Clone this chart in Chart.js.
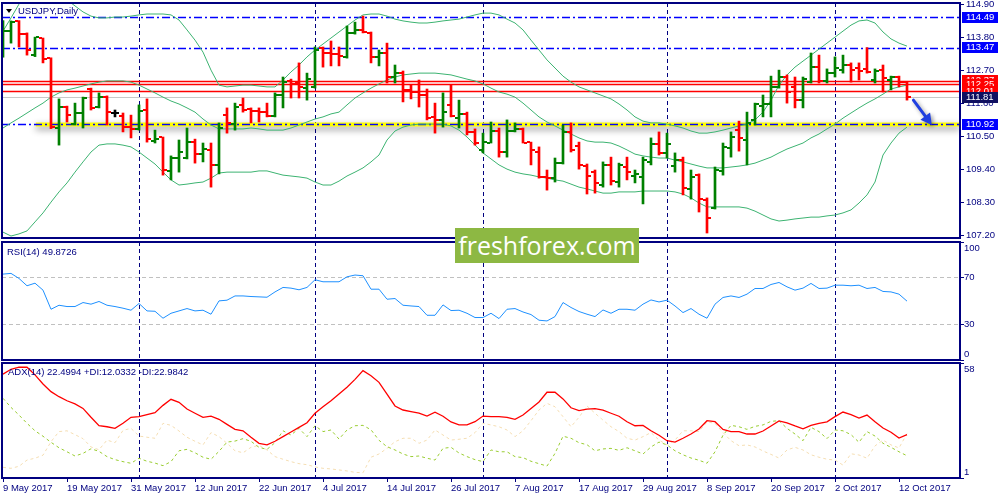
<!DOCTYPE html>
<html><head><meta charset="utf-8">
<script src="https://cdn.jsdelivr.net/npm/chart.js@4.4.1/dist/chart.umd.min.js"></script>
<style>
html,body{margin:0;padding:0;background:#fff;width:1000px;height:500px;overflow:hidden;position:relative}
canvas{position:absolute;left:0}
#c1{top:0}
#c2{top:240px}
#c3{top:361px}
.lbl{position:absolute;font-family:"Liberation Sans",Arial,sans-serif;font-size:9.5px;color:#000080;white-space:nowrap;line-height:12px}
#tri{position:absolute;left:6px;top:9px;width:0;height:0;border-left:3.5px solid transparent;border-right:3.5px solid transparent;border-top:4px solid #000}
#wm{position:absolute;left:455px;top:228px;width:184px;height:35px;background:#8db843;color:#fff;font-family:"Open Sans",sans-serif;font-size:25px;line-height:34px;text-align:center}
</style></head><body>
<canvas id="c1" width="1000" height="240"></canvas>
<canvas id="c2" width="1000" height="121"></canvas>
<canvas id="c3" width="1000" height="139"></canvas>
<div id="tri"></div>
<div class="lbl" style="left:18px;top:5px">USDJPY,Daily</div>
<div class="lbl" style="left:7px;top:246px">RSI(14) 49.8726</div>
<div class="lbl" style="left:8px;top:366px">ADX(14) 22.4994 +DI:12.0332 -DI:22.9842</div>
<div id="wm">freshforex.com</div>
<script>
// ---------------- data ----------------
const dateLabels = ['9 May 2017','19 May 2017','31 May 2017','12 Jun 2017','22 Jun 2017','4 Jul 2017','14 Jul 2017','26 Jul 2017','7 Aug 2017','17 Aug 2017','29 Aug 2017','8 Sep 2017','20 Sep 2017','2 Oct 2017','12 Oct 2017'];
const dateLabelIndex = [0,8,16,24,32,40,48,56,64,72,80,88,96,104,112];
const monthStartIndex = [17,39,60,83,104];
const priceTicks = [114.90,113.80,112.70,111.60,110.50,109.40,108.30,107.20];
const rsiTicks = [100,70,30,0];
const adxTicks = [58,1];

const opens = [113.25,114.02,114.36,113.92,113.22,113.79,113.12,110.79,111.49,110.92,
111.29,112.09,111.49,111.82,111.29,111.19,110.82,110.76,111.39,110.36,
110.49,109.36,109.79,109.79,110.32,109.92,110.06,109.56,111.22,110.92,
111.56,111.42,111.36,111.32,111.19,111.89,112.36,112.29,112.12,112.16,
113.46,113.29,113.26,113.16,113.96,114.06,113.96,113.16,113.29,112.49,
112.62,112.06,111.99,111.89,111.16,111.06,111.56,111.12,111.26,110.66,
110.06,110.29,110.69,109.99,110.69,110.76,110.32,109.99,109.16,109.12,
109.62,110.66,110.19,109.52,109.32,108.89,109.56,108.99,109.49,109.19,
109.16,109.66,110.26,109.96,109.52,109.72,108.76,109.22,108.39,108.12,
109.36,110.12,110.72,110.39,111.06,111.52,111.59,112.16,112.49,112.16,
111.72,112.32,112.82,112.36,112.62,112.72,112.89,112.79,112.76,112.39,
112.72,112.39,112.49,112.32];
const highs = [114.37,114.36,114.37,113.96,113.82,113.79,113.13,111.76,111.52,111.62,
111.82,112.12,111.96,111.86,111.39,111.29,111.22,111.56,111.76,110.72,
110.49,109.86,110.39,110.79,110.42,110.29,110.29,110.96,111.46,111.62,
111.79,111.46,111.46,111.62,111.96,112.49,112.42,112.96,112.62,113.49,
113.49,113.69,113.49,114.19,114.32,114.52,113.99,113.39,113.62,112.89,
112.69,112.22,112.39,112.09,111.62,111.96,112.22,111.72,111.32,110.76,
110.62,110.99,110.79,111.06,110.96,110.79,110.32,110.16,109.39,109.79,
110.89,110.96,110.32,109.59,109.39,109.66,109.82,109.62,109.82,109.39,
109.82,110.46,110.66,110.62,109.96,109.82,109.39,109.26,108.46,109.49,
110.29,110.66,111.02,111.32,111.62,111.89,112.52,112.72,112.56,112.49,
112.49,113.29,113.22,112.76,113.16,113.22,112.96,112.96,113.47,112.76,
112.89,112.52,112.52,112.32];
const lows = [113.15,113.62,113.49,113.22,113.17,112.96,110.77,110.22,110.99,110.89,
110.79,111.39,111.46,110.89,111.16,110.66,110.46,110.72,110.32,110.29,
109.22,109.06,109.32,109.76,109.62,109.66,108.82,109.26,110.62,110.72,
111.32,110.96,110.99,111.16,111.16,111.46,111.79,111.79,111.72,112.12,
112.82,112.86,112.86,113.12,113.92,113.96,112.96,112.86,112.29,112.29,
111.66,111.76,111.49,111.06,110.62,110.82,111.16,110.79,110.56,110.22,
109.96,110.29,109.82,109.82,110.66,110.29,109.56,109.12,108.72,108.99,
109.59,109.99,109.42,108.59,108.62,108.82,108.89,108.82,109.06,108.96,
108.26,109.56,109.89,109.79,109.32,108.56,108.42,107.99,107.29,108.09,
109.22,109.82,110.02,109.56,110.89,111.16,111.16,112.12,111.62,111.46,
111.46,112.29,112.29,112.29,112.49,112.62,112.32,112.39,112.62,112.29,
111.99,112.06,112.16,111.72];
const closes = [114.02,114.32,113.92,113.39,113.82,113.09,110.81,111.49,111.22,111.29,
111.79,111.46,111.82,111.32,111.29,110.82,110.76,111.36,110.42,110.42,
109.39,109.79,109.99,110.32,109.92,110.09,109.56,110.79,110.96,111.49,
111.39,111.36,111.32,111.19,111.89,112.32,112.26,112.16,112.42,113.39,
113.29,113.26,113.19,113.96,114.06,113.99,113.16,113.29,112.49,112.62,
112.06,111.99,111.89,111.12,111.06,111.32,111.19,111.26,110.66,110.29,
110.32,110.69,109.99,110.69,110.76,110.29,110.06,109.16,109.12,109.62,
110.66,110.06,109.56,109.19,108.96,109.56,109.02,109.56,109.32,109.26,
109.72,110.26,109.96,110.26,109.72,108.79,109.16,108.42,107.79,109.39,
110.16,110.49,110.46,110.96,111.59,111.59,112.16,112.49,111.99,111.72,
112.42,112.82,112.36,112.62,112.79,112.89,112.72,112.69,112.66,112.69,
112.46,112.49,112.32,111.81];

const bbUpper = [114.02,114.46,114.92,115.22,115.39,115.46,115.46,115.32,115.06,114.86,
114.66,114.52,114.46,114.46,114.49,114.49,114.52,114.56,114.59,114.59,
114.59,114.56,114.39,114.06,113.72,113.32,112.72,112.22,112.16,112.19,
112.22,112.22,112.19,112.16,112.16,112.39,112.66,112.89,113.16,113.39,
113.59,113.79,113.99,114.19,114.39,114.56,114.59,114.59,114.52,114.42,
114.36,114.32,114.29,114.29,114.32,114.36,114.39,114.42,114.49,114.56,
114.62,114.62,114.56,114.42,114.29,114.06,113.72,113.39,113.06,112.79,
112.52,112.32,112.16,112.06,111.96,111.86,111.76,111.59,111.39,111.16,
111.02,110.96,110.96,110.92,110.86,110.79,110.69,110.62,110.62,110.66,
110.72,110.79,110.86,110.92,111.06,111.32,111.72,112.22,112.56,112.82,
113.02,113.22,113.42,113.62,113.82,114.02,114.22,114.36,114.39,114.29,
113.99,113.76,113.62,113.52];
const bbMiddle = [110.79,110.96,111.12,111.29,111.46,111.62,111.82,111.96,112.06,112.12,
112.19,112.26,112.32,112.36,112.36,112.36,112.32,112.22,112.09,111.96,
111.82,111.69,111.59,111.46,111.32,111.09,110.89,110.76,110.76,110.76,
110.76,110.79,110.76,110.72,110.72,110.72,110.79,110.89,110.99,111.09,
111.16,111.26,111.32,111.56,111.79,111.96,112.12,112.26,112.39,112.49,
112.56,112.59,112.62,112.62,112.62,112.59,112.56,112.49,112.42,112.36,
112.26,112.12,111.99,111.92,111.82,111.62,111.39,111.16,110.99,110.86,
110.72,110.59,110.46,110.36,110.32,110.32,110.29,110.19,110.06,109.92,
109.86,109.82,109.79,109.79,109.72,109.66,109.59,109.52,109.46,109.46,
109.46,109.49,109.52,109.56,109.62,109.72,109.82,109.96,110.09,110.19,
110.29,110.46,110.59,110.76,110.92,111.12,111.29,111.46,111.62,111.76,
111.92,112.09,112.16,112.22];
const bbLower = [107.32,107.19,107.26,107.36,107.66,107.96,108.32,108.66,108.96,109.32,
109.66,109.99,110.22,110.26,110.26,110.22,110.16,109.99,109.79,109.59,
109.32,109.06,108.89,108.92,108.96,108.99,109.12,109.29,109.32,109.32,
109.32,109.32,109.36,109.36,109.29,109.22,109.19,109.16,109.12,108.99,
108.89,108.89,109.02,109.19,109.32,109.46,109.66,109.89,110.39,110.69,
110.82,110.89,110.92,110.92,110.92,110.92,110.86,110.72,110.49,110.22,
109.96,109.76,109.56,109.42,109.32,109.26,109.22,109.16,109.12,109.06,
109.02,108.92,108.82,108.76,108.69,108.62,108.62,108.66,108.66,108.66,
108.69,108.69,108.69,108.69,108.66,108.59,108.46,108.29,108.16,108.16,
108.16,108.16,108.16,108.12,108.02,107.89,107.76,107.69,107.72,107.76,
107.79,107.82,107.82,107.86,107.89,107.96,108.06,108.29,108.56,108.99,
109.89,110.29,110.62,110.82];

const rsi14 = [72.8,73.4,69.1,62.9,65.1,59.2,43.0,46.4,45.3,45.3,
48.7,47.3,49.6,46.4,45.3,43.9,42.2,47.9,41.6,41.3,
35.4,39.6,41.6,43.6,41.6,42.2,38.8,50.1,50.7,54.3,
54.3,53.8,53.5,53.2,57.7,61.5,60.9,59.5,61.5,68.0,
66.3,66.3,66.3,70.5,72.0,71.4,60.0,60.0,51.5,52.1,
46.4,45.8,45.3,37.9,37.9,46.7,41.9,42.2,39.6,36.0,
36.0,39.6,35.1,43.0,43.6,40.7,38.5,33.7,33.1,36.8,
48.7,44.5,41.1,38.8,36.8,42.4,39.6,43.0,43.0,42.2,
47.3,50.9,49.2,50.7,45.8,40.2,43.6,38.8,35.4,47.3,
53.0,54.3,53.0,55.8,60.6,60.6,64.0,65.7,62.0,59.2,
60.9,64.9,60.6,60.9,63.4,63.4,62.9,63.4,60.6,61.5,
58.1,57.7,55.8,49.87];

const adx14 = [52.5,54.9,56.0,55.9,52.1,47.6,43.8,41.3,39.3,37.7,
35.5,31.1,26.9,26.4,25.6,28.1,31.1,31.4,32.4,33.4,
37.0,40.0,38.5,35.2,33.1,31.1,31.7,30.1,27.6,25.1,
24.4,21.2,18.2,17.4,19.2,21.5,23.8,26.1,28.4,33.1,
36.3,39.3,42.6,46.0,49.9,54.2,51.7,48.4,42.6,36.7,
34.7,33.9,33.1,31.7,33.6,31.6,28.8,27.3,27.3,28.9,
31.7,31.4,31.4,31.1,30.1,32.2,35.5,38.7,43.5,43.5,
40.2,35.8,34.4,35.1,35.4,34.6,33.1,31.6,28.9,26.9,
27.1,24.4,22.2,19.5,18.8,20.7,22.8,25.3,29.4,28.9,
25.1,24.0,24.0,22.8,22.8,24.3,26.8,29.3,28.3,26.8,
25.4,27.1,28.1,28.8,31.4,33.7,32.4,30.7,32.2,28.9,
25.8,23.7,20.8,22.5];
const plusDI = [40.5,36.0,32.2,28.1,24.4,21.7,18.7,16.0,14.0,11.9,
13.2,15.5,14.2,11.6,10.1,9.1,8.3,10.8,9.3,8.4,
7.1,9.1,14.5,15.2,13.5,11.3,10.3,14.2,18.8,19.3,
20.5,19.2,16.2,15.2,18.5,24.4,22.3,25.6,21.5,26.9,
24.0,24.8,20.3,24.8,26.9,27.1,24.9,19.7,16.5,14.9,
12.9,11.6,11.9,10.8,9.9,15.7,16.2,13.4,11.6,10.1,
9.1,14.9,14.0,14.0,11.6,11.1,9.3,8.1,6.9,13.2,
21.7,20.7,18.5,17.5,14.5,15.4,15.7,14.7,16.0,14.5,
12.9,16.4,18.8,17.4,14.5,12.5,10.9,9.8,8.3,14.0,
22.2,27.1,26.4,25.1,26.6,27.3,29.1,29.4,25.6,22.8,
19.5,26.1,24.0,20.5,24.8,24.4,22.5,18.7,24.0,21.8,
18.2,16.2,14.0,12.03];
const minusDI = [6.3,5.8,6.8,9.9,10.8,12.3,19.0,24.0,24.4,22.5,
20.5,16.4,15.0,19.8,18.5,24.6,25.6,21.8,21.2,20.7,
28.1,27.1,24.3,21.2,19.2,17.4,23.5,21.5,18.2,14.5,
13.5,16.2,17.2,14.9,11.6,10.3,9.1,8.1,7.6,6.5,
5.8,5.5,5.0,4.5,3.8,3.6,11.3,12.9,15.7,19.0,
20.7,20.7,18.2,19.8,24.8,22.3,19.8,20.2,20.7,23.5,
28.1,27.3,26.4,24.8,21.5,24.4,29.4,34.7,38.0,36.3,
31.4,26.4,31.1,36.7,33.1,29.7,26.4,24.0,20.7,19.8,
21.5,23.5,19.8,17.4,19.8,24.4,24.4,24.0,28.8,28.1,
23.5,19.5,17.0,17.4,16.4,14.4,12.7,10.9,14.9,16.2,
14.9,12.5,11.3,10.3,9.9,7.4,13.0,12.4,10.8,16.9,
19.8,17.4,15.9,22.98];

const blueLevels = [114.49,113.47];
const redLevels = [112.37,112.25,112.01];
const bidPrice = 111.81;
const supportLevel = 110.92;
const supportStartIndex = 4.1;
const arrowFrom = [113.8, 111.72];
const arrowTo = [116.1, 110.89];

// ---------------- styling / helpers ----------------
const NAVY = '#000080';
const FONT_FAMILY = '"Liberation Sans", Arial, sans-serif';
const UP = '#008000', DOWN = '#ff0000', FLAT = '#000000', BB = '#3cb371';
const X_MIN = -0.125, X_MAX = 119.625;
Chart.defaults.font.family = FONT_FAMILY;
Chart.defaults.font.size = 9.5;

const idx = opens.map((_, i) => i);
const pts = arr => arr.map((v, i) => ({x: i, y: v}));
const barColor = i => closes[i] > opens[i] ? UP : (closes[i] < opens[i] ? DOWN : FLAT);
const noPad = s => { s.paddingTop = 0; s.paddingBottom = 0; s.paddingLeft = 0; s.paddingRight = 0; };

function tickImage(color, left) {
  const c = document.createElement('canvas');
  c.width = 8; c.height = 2;
  const g = c.getContext('2d');
  g.fillStyle = color;
  g.fillRect(left ? 0 : 5, 0, 3, 2);
  return c;
}
const tickImgs = {};
[UP, DOWN, FLAT].forEach(c => { tickImgs[c + 'L'] = tickImage(c, true); tickImgs[c + 'R'] = tickImage(c, false); });

const framePlugin = {
  id: 'frame',
  afterDraw(chart) {
    const {ctx, chartArea: a} = chart;
    ctx.save();
    ctx.strokeStyle = NAVY; ctx.lineWidth = 2;
    ctx.strokeRect(a.left, a.top, a.right - a.left, a.bottom - a.top);
    ctx.restore();
  }
};

const insetLabels = {
  id: 'insetLabels',
  afterDraw(chart, args, opts) {
    const {ctx, chartArea: a} = chart; const s = chart.scales.y;
    ctx.save();
    ctx.font = '9.5px ' + FONT_FAMILY; ctx.fillStyle = NAVY;
    ctx.textAlign = 'left'; ctx.textBaseline = 'middle';
    opts.values.forEach(v => {
      let py = s.getPixelForValue(v);
      py = Math.max(a.top + 6, Math.min(a.bottom - 6, py));
      ctx.fillText(String(v), a.right + 4, py);
    });
    ctx.restore();
  }
};

function sepXScale() {
  return {
    type: 'linear', min: X_MIN, max: X_MAX, offset: false,
    afterBuildTicks: s => { s.ticks = monthStartIndex.map(v => ({value: v})); },
    grid: {display: true, drawOnChartArea: true, drawTicks: false, color: NAVY, lineWidth: 1, offset: false},
    border: {display: false, dash: [4, 3]},
    ticks: {display: false},
    afterFit: s => { s.height = 0; noPad(s); }
  };
}

const levelsPlugin = {
  id: 'levels',
  beforeDatasetsDraw(chart) {
    const {ctx, chartArea: a, scales: {x, y}} = chart;
    ctx.save();
    ctx.beginPath(); ctx.rect(a.left, a.top, a.right - a.left, a.bottom - a.top); ctx.clip();
    const hline = (v, color, w, dash, x0) => {
      const py = Math.round(y.getPixelForValue(v)) + 0.5;
      ctx.strokeStyle = color; ctx.lineWidth = w; ctx.setLineDash(dash);
      ctx.beginPath(); ctx.moveTo(x0 === undefined ? a.left : x0, py); ctx.lineTo(a.right, py); ctx.stroke();
    };
    ctx.save();
    ctx.shadowColor = 'rgba(0,0,0,0.45)'; ctx.shadowBlur = 7; ctx.shadowOffsetY = 3;
    hline(supportLevel, '#ffff00', 4, [], x.getPixelForValue(supportStartIndex));
    ctx.restore();
    hline(bidPrice, '#c8c8c8', 1, []);
    redLevels.forEach(v => hline(v, '#ff0000', 1.5, []));
    blueLevels.forEach(v => hline(v, '#0000ff', 1.5, [8, 3, 2, 3]));
    hline(supportLevel, '#0000ff', 1.5, [8, 3, 2, 3]);
    ctx.restore();
  },
  afterDatasetsDraw(chart) {
    const {ctx, scales: {x, y}} = chart;
    const x0 = x.getPixelForValue(arrowFrom[0]), y0 = y.getPixelForValue(arrowFrom[1]);
    const x1 = x.getPixelForValue(arrowTo[0]), y1 = y.getPixelForValue(arrowTo[1]);
    const ang = Math.atan2(y1 - y0, x1 - x0), head = 11, hw = 6;
    const bx = x1 - head * Math.cos(ang), by = y1 - head * Math.sin(ang);
    ctx.save();
    ctx.shadowColor = 'rgba(0,0,0,0.4)'; ctx.shadowBlur = 4; ctx.shadowOffsetX = 2; ctx.shadowOffsetY = 2;
    ctx.strokeStyle = '#2040e0'; ctx.fillStyle = '#2040e0'; ctx.lineWidth = 3; ctx.lineCap = 'round';
    ctx.beginPath(); ctx.moveTo(x0, y0); ctx.lineTo(bx, by); ctx.stroke();
    ctx.beginPath(); ctx.moveTo(x1, y1);
    ctx.lineTo(bx + hw * Math.sin(ang), by - hw * Math.cos(ang));
    ctx.lineTo(bx - hw * Math.sin(ang), by + hw * Math.cos(ang));
    ctx.closePath(); ctx.fill();
    ctx.restore();
  },
  afterDraw(chart) {
    const {ctx, chartArea: a, scales: {y}} = chart;
    ctx.save();
    ctx.font = '9.5px ' + FONT_FAMILY; ctx.textAlign = 'left'; ctx.textBaseline = 'middle';
    const box = (v, bg) => {
      const py = y.getPixelForValue(v);
      ctx.fillStyle = bg; ctx.fillRect(a.right + 2, Math.round(py - 5.5), 36, 11);
      ctx.fillStyle = '#ffffff'; ctx.fillText(v.toFixed(2), a.right + 6, py);
    };
    blueLevels.forEach(v => box(v, '#0000ff'));
    box(supportLevel, '#0000ff');
    redLevels.forEach(v => box(v, '#ff0000'));
    box(bidPrice, '#101060');
    ctx.restore();
  }
};

// ---------------- main price chart ----------------
new Chart(document.getElementById('c1'), {
  type: 'bar',
  data: {
    datasets: [
      {type: 'bar', data: idx.map(i => ({x: i, y: [lows[i], highs[i]]})), backgroundColor: idx.map(barColor), barThickness: 2, borderWidth: 0},
      {type: 'line', data: pts(opens), showLine: false, pointRadius: 1, pointStyle: idx.map(i => tickImgs[barColor(i) + 'L'])},
      {type: 'line', data: pts(closes), showLine: false, pointRadius: 1, pointStyle: idx.map(i => tickImgs[barColor(i) + 'R'])},
      {type: 'line', data: pts(bbUpper), borderColor: BB, borderWidth: 1, pointRadius: 0, tension: 0},
      {type: 'line', data: pts(bbMiddle), borderColor: BB, borderWidth: 1, pointRadius: 0, tension: 0},
      {type: 'line', data: pts(bbLower), borderColor: BB, borderWidth: 1, pointRadius: 0, tension: 0}
    ]
  },
  options: {
    responsive: false, devicePixelRatio: 1, animation: false, events: [],
    layout: {padding: {left: 2, right: 0, top: 3, bottom: 2}, autoPadding: false},
    plugins: {legend: {display: false}, tooltip: {enabled: false}},
    scales: {
      x: sepXScale(),
      y: {
        type: 'linear', position: 'right', min: 107.124, max: 114.957,
        afterBuildTicks: s => { s.ticks = priceTicks.map(v => ({value: v})); },
        afterFit: s => { s.width = 40; noPad(s); },
        grid: {drawOnChartArea: false, drawTicks: true, tickLength: 4, tickColor: NAVY},
        border: {display: false},
        ticks: {color: NAVY, padding: 2, font: {size: 9.5}, callback: v => Number(v).toFixed(2)}
      }
    }
  },
  plugins: [levelsPlugin, framePlugin]
});

// ---------------- RSI ----------------
new Chart(document.getElementById('c2'), {
  type: 'line',
  data: {datasets: [{data: pts(rsi14), borderColor: '#1e90ff', borderWidth: 1, pointRadius: 0, tension: 0}]},
  options: {
    responsive: false, devicePixelRatio: 1, animation: false, events: [],
    layout: {padding: {left: 2, right: 0, top: 2, bottom: 1}, autoPadding: false},
    plugins: {legend: {display: false}, tooltip: {enabled: false}, insetLabels: {values: rsiTicks}},
    scales: {
      x: sepXScale(),
      y: {
        type: 'linear', position: 'right', min: 0, max: 100,
        afterBuildTicks: s => { s.ticks = rsiTicks.map(v => ({value: v})); },
        afterFit: s => { s.width = 40; noPad(s); },
        grid: {drawOnChartArea: true, drawTicks: true, tickLength: 4, tickColor: NAVY,
               color: c => (c.tick && (c.tick.value === 30 || c.tick.value === 70)) ? '#c0c0c0' : 'rgba(0,0,0,0)'},
        border: {display: false, dash: [4, 3]},
        ticks: {display: false}
      }
    }
  },
  plugins: [framePlugin, insetLabels]
});

// ---------------- ADX ----------------
const bottomTicks = Array.from(new Set([...dateLabelIndex, ...monthStartIndex])).sort((a, b) => a - b);
new Chart(document.getElementById('c3'), {
  type: 'line',
  data: {datasets: [
    {data: pts(adx14), borderColor: '#ff0000', borderWidth: 1.3, pointRadius: 0, tension: 0},
    {data: pts(plusDI), borderColor: '#9acd32', borderWidth: 1, borderDash: [3, 3], pointRadius: 0, tension: 0},
    {data: pts(minusDI), borderColor: '#f5deb3', borderWidth: 1, borderDash: [3, 3], pointRadius: 0, tension: 0}
  ]},
  options: {
    responsive: false, devicePixelRatio: 1, animation: false, events: [],
    layout: {padding: {left: 2, right: 0, top: 2, bottom: 0}, autoPadding: false},
    plugins: {legend: {display: false}, tooltip: {enabled: false}, insetLabels: {values: adxTicks}},
    scales: {
      x: {
        type: 'linear', min: X_MIN, max: X_MAX, offset: false,
        afterBuildTicks: s => { s.ticks = bottomTicks.map(v => ({value: v})); },
        afterFit: s => { s.height = 22; noPad(s); },
        grid: {drawOnChartArea: true, drawTicks: true, tickLength: 4, lineWidth: 1, offset: false,
               color: c => (c.tick && monthStartIndex.includes(c.tick.value)) ? NAVY : 'rgba(0,0,0,0)',
               tickColor: c => (c.tick && dateLabelIndex.includes(c.tick.value)) ? NAVY : 'rgba(0,0,0,0)'},
        border: {display: false, dash: [4, 3]},
        ticks: {display: true, autoSkip: false, maxRotation: 0, minRotation: 0, align: 'start', padding: 1, color: NAVY,
                font: {size: 9.5},
                callback: v => { const k = dateLabelIndex.indexOf(v); return k >= 0 ? dateLabels[k] : ''; }}
      },
      y: {
        type: 'linear', position: 'right', min: 1, max: 58,
        afterBuildTicks: s => { s.ticks = adxTicks.map(v => ({value: v})); },
        afterFit: s => { s.width = 40; noPad(s); },
        grid: {drawOnChartArea: false, drawTicks: true, tickLength: 4, tickColor: NAVY},
        border: {display: false},
        ticks: {display: false}
      }
    }
  },
  plugins: [framePlugin, insetLabels]
});
</script>
</body></html>
